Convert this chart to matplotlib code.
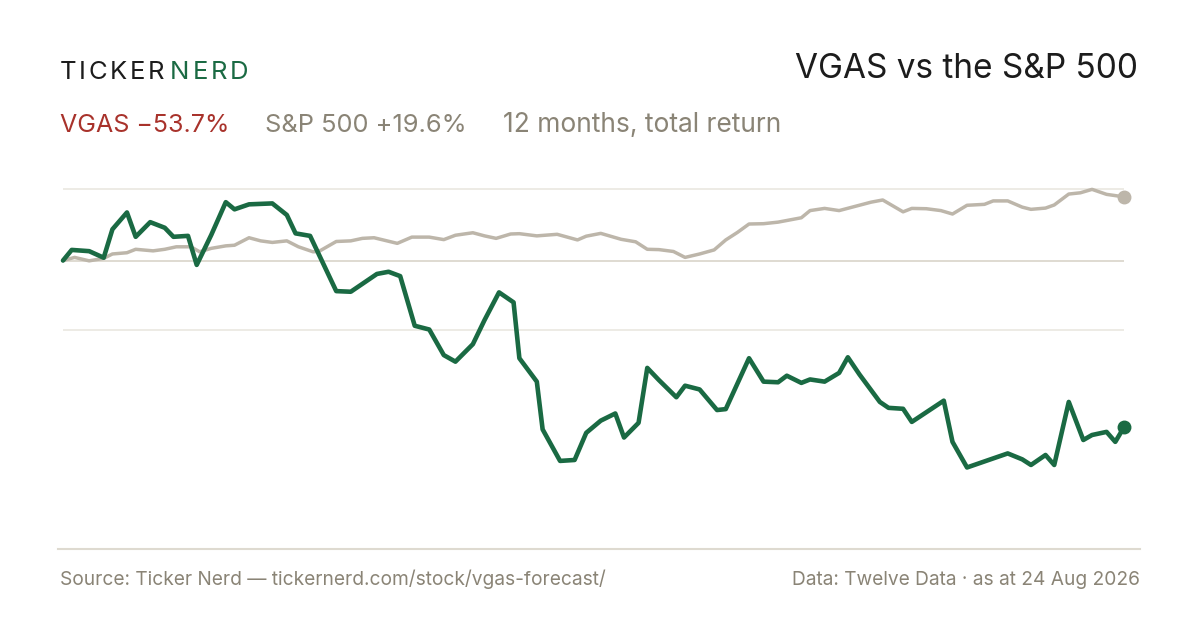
import matplotlib
matplotlib.use("Agg")
import matplotlib.pyplot as plt
from matplotlib.lines import Line2D

plt.rcParams['font.family'] = ['Inter', 'DejaVu Sans']

W, H = 1200, 630

# days since 24 Aug 2025, percent total return
vgas_day = [0, 3, 9, 14, 17, 22, 25, 30, 35, 38, 43, 46, 51, 56, 59, 64, 72, 77, 80, 85,
            94, 99, 108, 112, 116, 121, 126, 131, 135, 141, 145, 150, 155, 157, 163, 165,
            171, 176, 180, 185, 190, 193, 198, 201, 205, 211, 214, 219, 225, 228, 236,
            241, 246, 249, 254, 257, 262, 267, 270, 274, 281, 284, 289, 292, 303, 306,
            311, 320, 325, 330, 333, 338, 341, 346, 351, 354, 359, 362, 365]
vgas_ret = [0.0, 3.4, 3.0, 0.9, 10.0, 15.4, 7.6, 12.3, 10.5, 7.6, 7.9, -1.4, 8.2, 18.7,
            16.4, 18.0, 18.3, 14.6, 8.7, 7.9, -9.8, -10.0, -4.3, -3.6, -5.0, -20.9, -22.1,
            -30.3, -32.4, -26.8, -19.1, -10.2, -13.4, -31.3, -38.8, -54.1, -64.2, -63.9,
            -55.2, -51.3, -49.0, -56.7, -52.0, -34.4, -38.3, -43.8, -40.1, -41.3, -47.9,
            -47.6, -31.3, -38.8, -39.0, -36.9, -39.2, -38.1, -38.8, -36.0, -31.0, -36.5,
            -45.3, -47.2, -47.5, -51.7, -44.9, -58.1, -66.3, -63.4, -61.8, -63.7, -65.5,
            -62.3, -65.5, -45.3, -57.5, -55.9, -54.9, -58.1, -53.4]

spx_day = [0, 4, 9, 14, 17, 22, 25, 31, 35, 39, 44, 47, 51, 56, 59, 64, 68, 72, 77, 81,
           86, 88, 94, 99, 103, 107, 115, 120, 126, 131, 135, 141, 145, 149, 154, 157,
           163, 170, 177, 180, 185, 192, 197, 201, 205, 210, 214, 219, 224, 228, 232,
           236, 241, 246, 254, 257, 262, 267, 278, 282, 289, 292, 297, 302, 306, 311,
           317, 320, 325, 330, 333, 338, 341, 346, 350, 354, 359, 365]
spx_ret = [0.0, 1.0, -0.1, 0.7, 2.1, 2.5, 3.6, 3.1, 3.6, 4.4, 4.4, 2.8, 3.9, 4.7, 4.9,
           7.3, 6.3, 5.8, 6.3, 4.4, 2.8, 2.9, 6.1, 6.3, 7.1, 7.3, 5.5, 7.5, 7.5, 6.7, 8.1,
           8.9, 7.9, 7.1, 8.5, 8.6, 7.9, 8.4, 6.6, 7.8, 8.7, 6.8, 6.0, 3.6, 3.5, 2.9, 1.0,
           2.1, 3.4, 6.6, 9.0, 11.7, 11.8, 12.3, 13.7, 16.0, 16.7, 16.0, 18.7, 19.4, 15.6,
           16.7, 16.6, 16.0, 14.9, 17.7, 18.0, 19.1, 19.1, 17.1, 16.4, 16.8, 17.8, 21.3,
           21.7, 22.8, 21.2, 20.4]

grid_vals = [22.8, 0.0, -22.1]

GREEN = '#1a6a43'
SAND = '#bdb6aa'
RED = '#a8322b'
MUTED = '#8a8476'
INK = '#1c1c1c'

fig = plt.figure(figsize=(12, 6.3), dpi=100)
fig.patch.set_facecolor('white')

# plot area: x 63..1124 px, y 180..548 px
ax = fig.add_axes([63 / W, 1 - 548 / H, (1124 - 63) / W, (548 - 180) / H])
ax.set_xlim(0, 365)
ax.set_ylim(-92.1, 25.8)
ax.axis('off')

for g in grid_vals:
    ax.axhline(g, color='#dcd8ce' if g == 0 else '#ece9e3', lw=1.3, zorder=1)

ax.plot(spx_day, spx_ret, color=SAND, lw=2.5, solid_joinstyle='round',
        solid_capstyle='round', zorder=2, clip_on=False)
ax.plot(vgas_day, vgas_ret, color=GREEN, lw=3.3, solid_joinstyle='round',
        solid_capstyle='round', zorder=3, clip_on=False)
ax.plot(spx_day[-1], spx_ret[-1], 'o', color=SAND, ms=9, zorder=4, clip_on=False)
ax.plot(vgas_day[-1], vgas_ret[-1], 'o', color=GREEN, ms=9, zorder=5, clip_on=False)

# bottom rule
fig.add_artist(Line2D([58 / W, 1140 / W], [1 - 548.5 / H] * 2, color='#dedad0', lw=1.5))


def px(x, y):
    return x / W, 1 - y / H


renderer = fig.canvas.get_renderer()


def tracked(x, y, s, tracking, **kw):
    for ch in s:
        t = fig.text(*px(x, y), ch, va='baseline', **kw)
        x += t.get_window_extent(renderer).width + tracking
    return x


tracked(60, 79.3, 'TICKER', 2.5, color=INK, fontsize=18.5)
tracked(170, 79.3, 'NERD', 3.0, color=GREEN, fontsize=18.5)

fig.text(*px(1138, 78.3), 'VGAS vs the S&P 500', ha='right', va='baseline',
         color=INK, fontsize=24)

fig.text(*px(60, 132.3), 'VGAS \u221253.7%', va='baseline', color=RED, fontsize=18)
fig.text(*px(265, 132.3), 'S&P 500 +19.6%', va='baseline', color=MUTED, fontsize=18.3)
fig.text(*px(503, 132.3), '12 months, total return', va='baseline', color=MUTED,
         fontsize=19)

fig.text(*px(60, 585), 'Source: Ticker Nerd \u2014 tickernerd.com/stock/vgas-forecast/',
         va='baseline', color=MUTED, fontsize=13.8)
fig.text(*px(1140, 585), 'Data: Twelve Data \u00b7 as at 24 Aug 2026', ha='right',
         va='baseline', color=MUTED, fontsize=13.8)

fig.savefig('out.png', dpi=100, facecolor='white')
